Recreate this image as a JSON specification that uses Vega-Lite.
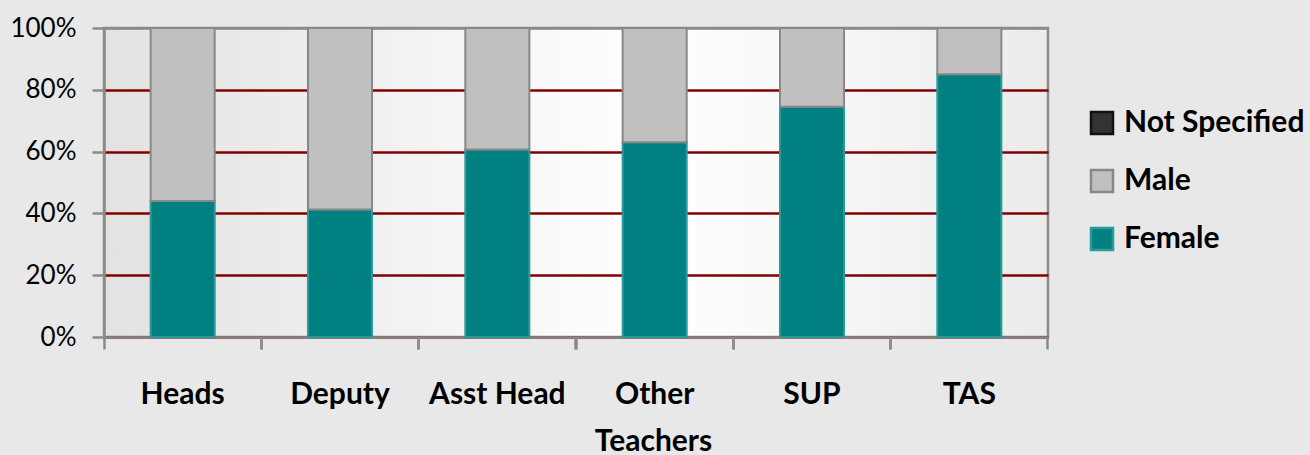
{
  "$schema": "https://vega.github.io/schema/vega-lite/v6.json",
  "autosize": {"type": "none"},
  "width": 944,
  "height": 309,
  "padding": {"left": 104, "top": 28, "right": 262, "bottom": 118},
  "background": "#e8e8e8",
  "config": {
    "font": "Lato",
    "view": {
      "stroke": "#8a8a8a",
      "strokeWidth": 2.5,
      "fill": {"gradient": "linear", "x1": 0, "y1": 0, "x2": 1, "y2": 0,
        "stops": [{"offset": 0, "color": "#e2e2e2"}, {"offset": 0.58, "color": "#ffffff"}, {"offset": 1, "color": "#ebebeb"}]}
    }
  },
  "data": {
    "values": [
      {"role": "Heads", "gender": "Female", "share": 0.44},
      {"role": "Heads", "gender": "Male", "share": 0.56},
      {"role": "Deputy", "gender": "Female", "share": 0.413},
      {"role": "Deputy", "gender": "Male", "share": 0.587},
      {"role": "Asst Head", "gender": "Female", "share": 0.607},
      {"role": "Asst Head", "gender": "Male", "share": 0.393},
      {"role": "Other", "gender": "Female", "share": 0.63},
      {"role": "Other", "gender": "Male", "share": 0.37},
      {"role": "SUP", "gender": "Female", "share": 0.745},
      {"role": "SUP", "gender": "Male", "share": 0.255},
      {"role": "TAS", "gender": "Female", "share": 0.85},
      {"role": "TAS", "gender": "Male", "share": 0.15}
    ]
  },
  "encoding": {
    "y": {
      "field": "share", "type": "quantitative", "stack": "zero",
      "scale": {"domain": [0, 1], "nice": false},
      "axis": {
        "title": null, "format": ".0%", "values": [0, 0.2, 0.4, 0.6, 0.8, 1],
        "labelFont": "Lato", "labelFontSize": 26, "labelColor": "#000000", "labelPadding": 16,
        "tickSize": 12, "tickColor": "#8a8a8a", "tickWidth": 2.5,
        "domainColor": "#8a8a8a", "domainWidth": 2.5,
        "grid": true,
        "gridColor": {"condition": {"test": "datum.value >= 1", "value": "#8a8a8a"}, "value": "#800000"},
        "gridWidth": 2.5
      }
    },
    "color": {
      "field": "gender", "type": "nominal",
      "scale": {"domain": ["Not Specified", "Male", "Female"], "range": ["#333333", "#c0c0c0", "#008080"]},
      "legend": {
        "title": null, "orient": "none", "legendX": 983, "legendY": 80,
        "symbolType": "square", "symbolSize": 484, "symbolStrokeWidth": 2.5,
        "rowPadding": 26, "labelFont": "Lato", "labelFontSize": 30, "labelFontWeight": "bold", "labelColor": "#000000",
        "labelOffset": 7, "labelLimit": 400
      }
    },
    "stroke": {
      "field": "gender", "type": "nominal",
      "scale": {"domain": ["Not Specified", "Male", "Female"], "range": ["#111111", "#888888", "#2a9a9a"]},
      "legend": null
    },
    "order": {"field": "gender", "sort": "ascending"}
  },
  "layer": [
    {
      "mark": {"type": "bar", "strokeWidth": 2},
      "encoding": {
        "x": {
          "field": "role", "type": "nominal", "sort": null,
          "scale": {"paddingInner": 0.593, "paddingOuter": 0.2965},
          "axis": {
            "orient": "bottom",
            "title": "Teachers",
            "titleFont": "Lato", "titleFontSize": 30, "titleFontWeight": "bold", "titleColor": "#000000",
            "titleX": 549, "titleY": 113, "titleBaseline": "alphabetic",
            "labelAngle": 0, "labelFont": "Lato", "labelFontSize": 30, "labelFontWeight": "bold", "labelColor": "#000000",
            "labelPadding": 30,
            "bandPosition": 1.728,
            "tickSize": 12, "tickColor": "#8a8a8a", "tickWidth": 2.5,
            "domainColor": "#8a8a8a", "domainWidth": 2.5
          }
        }
      }
    },
    {
      "mark": {"type": "bar", "opacity": 0},
      "encoding": {
        "x": {
          "field": "role", "type": "nominal", "sort": null,
          "scale": {"paddingInner": 0.593, "paddingOuter": 0.2965},
          "axis": {
            "orient": "bottom", "title": null, "labels": false, "domain": false,
            "bandPosition": -0.728,
            "tickSize": 12, "tickColor": "#8a8a8a", "tickWidth": 2.5
          }
        }
      }
    }
  ],
  "resolve": {"axis": {"x": "independent"}}
}
